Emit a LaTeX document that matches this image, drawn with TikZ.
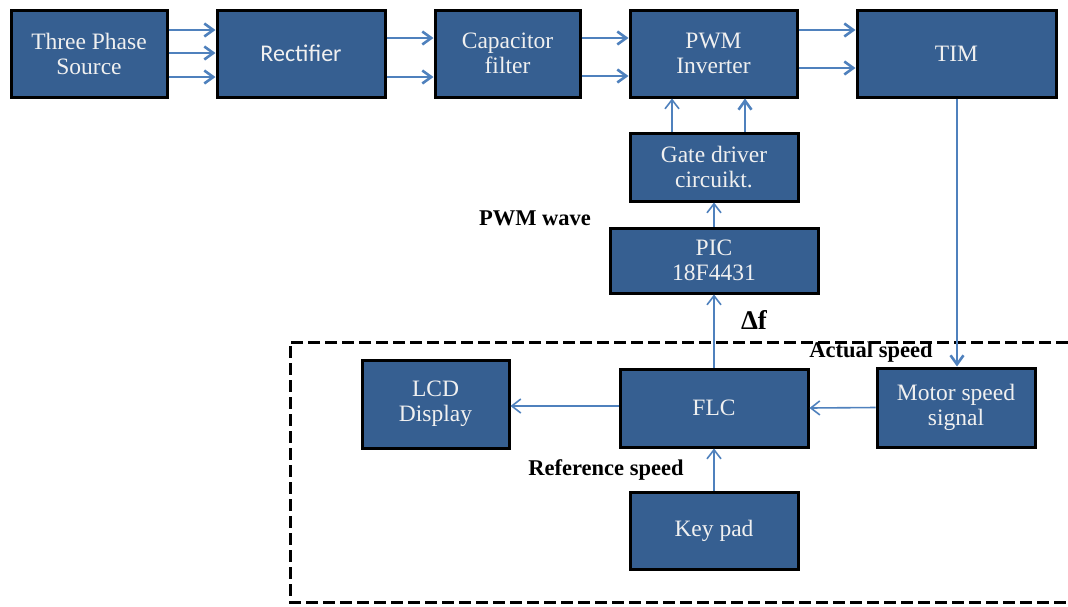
\documentclass[tikz,border=0pt]{standalone}
\usepackage{fontspec}
\setmainfont{Liberation Serif}
\newfontfamily\calib{Carlito}
\usetikzlibrary{arrows.meta}
\definecolor{blockblue}{HTML}{365F91}
\definecolor{arrowblue}{HTML}{4F81BD}
\tikzset{
  blk/.style={draw=black, line width=3pt, fill=blockblue, text=white!94!black,
    align=center, inner sep=0pt, font=\fontsize{23.5}{25}\selectfont},
  arr/.style={draw=arrowblue, line width=2.6pt, -{Straight Barb[length=9pt,width=13pt,line width=2.6pt]}},
  tarr/.style={draw=arrowblue, line width=1.6pt, -{Straight Barb[length=9pt,width=14pt,line width=1.6pt]}},
  lbl/.style={font=\fontsize{22.5}{26}\selectfont\bfseries, text=black, inner sep=0pt},
}
\begin{document}
\begin{tikzpicture}[x=1pt,y=-1pt]
\useasboundingbox (0,0) rectangle (1068,606);
% dashed frame
\draw[line width=3pt, dash pattern=on 12pt off 5pt] (1068,342) -- (290,342) -- (290,602) -- (1068,602);
% blocks
\node[blk, minimum width=156pt, minimum height=87pt] (src) at (89,53.5) {Three Phase\\Source};
\node[blk, minimum width=168pt, minimum height=87pt, font=\calib\fontsize{24}{26}\selectfont] (rect) at (301,53.5) {Rectifier};
\node[blk, minimum width=145pt, minimum height=87pt] (cap) at (507.5,53.5) {Capacitor\\filter};
\node[blk, minimum width=167pt, minimum height=87pt] (pwm) at (713.5,53.5) {PWM\\Inverter};
\node[blk, minimum width=199pt, minimum height=87pt] (tim) at (956.5,53.5) {TIM};
\node[blk, minimum width=168pt, minimum height=68pt] (gate) at (714,167) {Gate driver\\circuikt.};
\node[blk, minimum width=208pt, minimum height=65pt] (pic) at (714,260.5) {PIC\\18F4431};
\node[blk, minimum width=147pt, minimum height=88pt] (lcd) at (435.5,404) {LCD\\Display};
\node[blk, minimum width=188pt, minimum height=78pt] (flc) at (714,408) {FLC};
\node[blk, minimum width=158pt, minimum height=79pt] (mss) at (956,407.5) {Motor speed\\signal};
\node[blk, minimum width=168pt, minimum height=77pt] (key) at (714,530.5) {Key pad};
% labels
\node[lbl] (lpwm) at (535,218) {PWM wave};
\node[lbl, font=\fontsize{27}{30}\selectfont\bfseries] (ldf) at (754,320) {Δf};
\node[lbl] (lact) at (871,352) {Actual speed};
\node[lbl] (lref) at (606,470) {Reference speed};
% top chain arrows
\foreach \y in {30,53,77} \draw[arr] (src.east |- 0,\y) -- (rect.west |- 0,\y);
\foreach \y in {38,77} \draw[arr] (rect.east |- 0,\y) -- (cap.west |- 0,\y);
\foreach \y in {38,76} \draw[arr] (cap.east |- 0,\y) -- (pwm.west |- 0,\y);
\foreach \y in {30,68} \draw[arr] (pwm.east |- 0,\y) -- (tim.west |- 0,\y);
% gate driver to inverter
\draw[tarr] (gate.north -| 672,0) -- (pwm.south -| 672,0);
\draw[arr] (gate.north -| 745,0) -- (pwm.south -| 745,0);
% PIC to gate driver
\draw[tarr] (pic.north) -- (gate.south);
% FLC to PIC
\draw[tarr] (flc.north) -- (pic.south);
% TIM to motor speed signal
\draw[arr] (tim.south -| 957,0) -- (mss.north -| 957,0);
% motor speed to FLC
\draw[tarr] (mss.west) -- (flc.east);
% FLC to LCD
\draw[tarr] (flc.west |- 0,406) -- (lcd.east |- 0,406);
% keypad to FLC
\draw[tarr] (key.north) -- (flc.south);
\end{tikzpicture}
\end{document}
